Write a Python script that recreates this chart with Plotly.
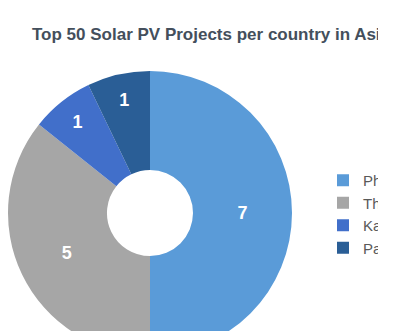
import plotly.graph_objects as go

countries = ["Philippines", "Thailand", "Kazakhstan", "Pakistan"]
projects = [7, 5, 1, 1]
colors = ["#5a9bd8", "#a6a6a6", "#416fca", "#2a5e96"]

W, H = 378, 360

fig = go.Figure(
    go.Pie(
        labels=countries,
        values=projects,
        sort=False,
        direction="clockwise",
        rotation=0,
        hole=0.303,
        marker=dict(colors=colors, line=dict(width=0)),
        textinfo="value",
        textposition="inside",
        insidetextorientation="horizontal",
        textfont=dict(color="white", size=18, family="Liberation Sans, Arial, sans-serif", weight="bold"),
        domain=dict(x=[8 / W, 292 / W], y=[(H - 355) / H, (H - 71) / H]),
        showlegend=True,
    )
)

fig.update_layout(
    width=W,
    height=H,
    margin=dict(l=0, r=0, t=0, b=0, pad=0, autoexpand=False),
    paper_bgcolor="white",
    plot_bgcolor="white",
    title=dict(
        text="<b>Top 50 Solar PV Projects per country in Asia</b>",
        x=32 / W,
        xanchor="left",
        xref="paper",
        y=1 - 34 / H,
        yanchor="middle",
        yref="container",
        font=dict(size=17, color="#444f5c", family="Liberation Sans, Arial, sans-serif"),
    ),
    legend=dict(
        x=323 / W,
        xanchor="left",
        y=1 - 214 / H,
        yanchor="middle",
        font=dict(size=15, color="#595959", family="Liberation Sans, Arial, sans-serif"),
        bgcolor="rgba(0,0,0,0)",
        traceorder="normal",
    ),
)

fig.write_html(
    "out.html",
    post_script="document.body.style.overflow='hidden';document.body.style.margin='0';document.documentElement.style.overflow='hidden';",
)
